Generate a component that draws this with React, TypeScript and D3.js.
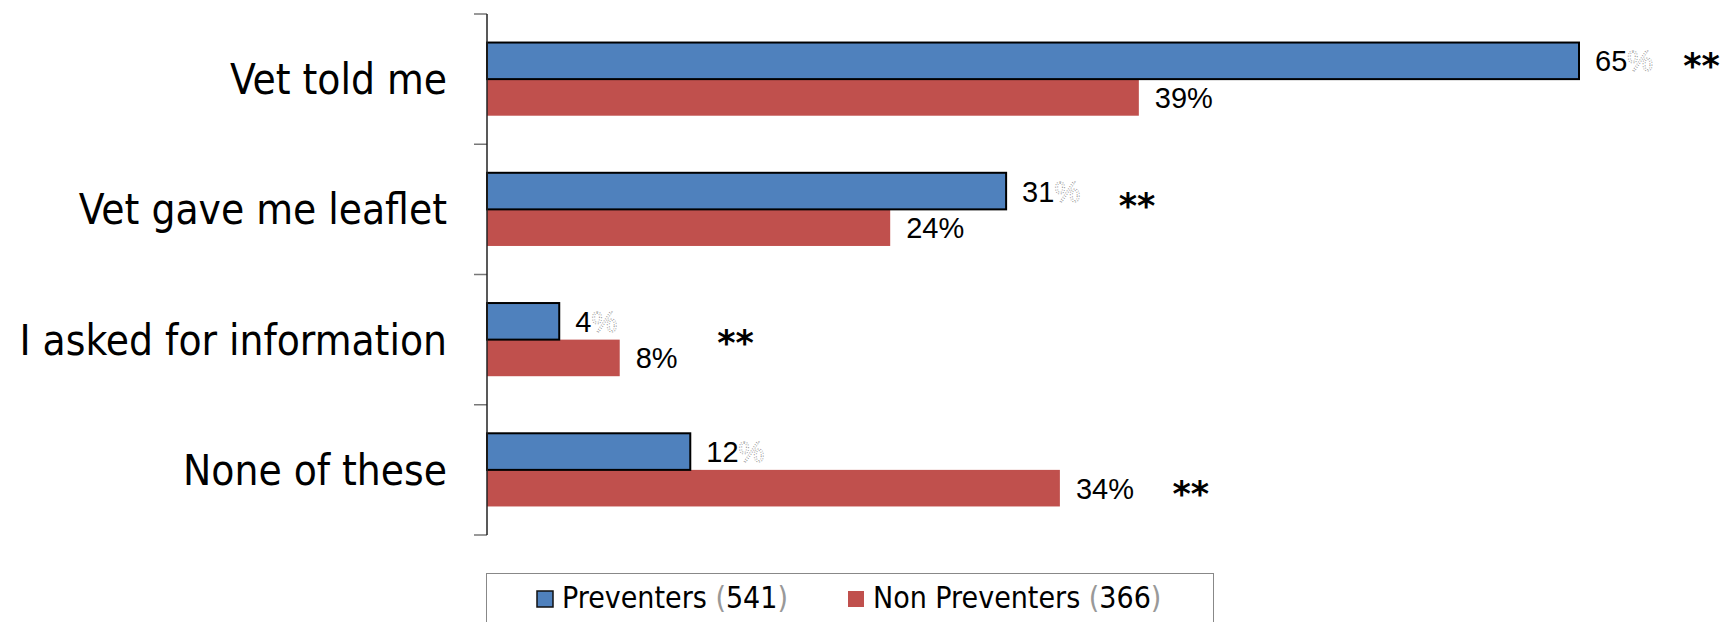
import { useEffect, useRef } from 'react';
import * as d3 from 'd3';

const categories = ['Vet told me', 'Vet gave me leaflet', 'I asked for information', 'None of these'];
const preventers = [65, 30.9, 4.3, 12.1];
const nonPreventers = [38.8, 24, 7.9, 34.1];
const preventerLabels = ['65', '31', '4', '12'];
const nonPreventerLabels = ['39', '24', '8', '34'];
// significance markers: x in % units, y as fraction of the category band
const starX = [71.2, 37.6, 13.7, 40.8];
const starBandPos = [0.36, 0.43, 0.48, 0.64];
const legendNames = ['Preventers', 'Non Preventers'];
const legendCounts = ['541', '366'];

const BLUE = '#4F81BD';
const RED = '#C0504D';

const App = (): JSX.Element => {
  const svgRef = useRef<SVGSVGElement>(null);

  useEffect(() => {
    const width = 1733;
    const height = 622;
    const left = 487;
    const svg = d3.select(svgRef.current)
      .attr('width', width)
      .attr('height', height);

    const x = d3.scaleLinear().domain([0, 70]).range([left, left + 70 * 16.8]);
    const y = d3.scaleBand<string>().domain(categories).range([14, 535]).paddingInner(0).paddingOuter(0);
    const sub = d3.scaleBand<string>().domain(['p', 'n']).range([0, y.bandwidth()])
      .paddingInner(0).paddingOuter(0.78);

    const rows = categories.map((c, i) => ({
      c,
      p: preventers[i],
      n: nonPreventers[i],
      pl: preventerLabels[i],
      nl: nonPreventerLabels[i],
      sx: starX[i],
      sy: starBandPos[i],
    }));

    const g = svg.append('g');

    // red bars first, blue bars (with outline) on top
    g.selectAll('rect.n').data(rows).enter().append('rect')
      .attr('x', x(0))
      .attr('y', d => (y(d.c) as number) + (sub('n') as number))
      .attr('width', d => x(d.n) - x(0))
      .attr('height', sub.bandwidth())
      .attr('fill', RED);

    g.selectAll('rect.p').data(rows).enter().append('rect')
      .attr('x', x(0))
      .attr('y', d => (y(d.c) as number) + (sub('p') as number))
      .attr('width', d => x(d.p) - x(0))
      .attr('height', sub.bandwidth())
      .attr('fill', BLUE)
      .attr('stroke', '#000')
      .attr('stroke-width', 2);

    // value labels
    const pt = g.selectAll('text.pv').data(rows).enter().append('text')
      .attr('x', d => x(d.p) + 16)
      .attr('y', d => (y(d.c) as number) + (sub('p') as number) + sub.bandwidth() / 2)
      .attr('dy', '0.36em')
      .attr('font-family', 'Liberation Sans, Arial, sans-serif')
      .attr('font-size', 29)
      .attr('fill', '#000');
    pt.append('tspan').text(d => d.pl);
    pt.append('tspan')
      .attr('fill', 'none')
      .attr('stroke', '#888')
      .attr('stroke-width', 0.8)
      .attr('stroke-dasharray', '1,1.5')
      .text('%');

    g.selectAll('text.nv').data(rows).enter().append('text')
      .attr('x', d => x(d.n) + 16)
      .attr('y', d => (y(d.c) as number) + (sub('n') as number) + sub.bandwidth() / 2)
      .attr('dy', '0.36em')
      .attr('font-family', 'Liberation Sans, Arial, sans-serif')
      .attr('font-size', 29)
      .attr('fill', '#000')
      .text(d => `${d.nl}%`);

    // significance stars
    g.selectAll('text.star').data(rows).enter().append('text')
      .attr('x', d => x(d.sx))
      .attr('y', d => (y(d.c) as number) + d.sy * y.bandwidth())
      .attr('dy', '0.5em')
      .attr('font-family', 'DejaVu Sans, sans-serif')
      .attr('font-weight', 'bold')
      .attr('font-size', 35)
      .attr('fill', '#000')
      .text('**');

    // category labels
    g.selectAll('text.cat').data(rows).enter().append('text')
      .attr('x', 447)
      .attr('y', d => (y(d.c) as number) + y.bandwidth() / 2)
      .attr('dy', '0.36em')
      .attr('text-anchor', 'end')
      .attr('font-family', 'DejaVu Sans Condensed, DejaVu Sans, sans-serif')
      .attr('font-size', 42)
      .attr('fill', '#000')
      .text(d => d.c);

    // axis line and ticks at band boundaries
    const bounds = [...categories.map(c => y(c) as number), y.range()[1]];
    g.selectAll('line.tick').data(bounds).enter().append('line')
      .attr('x1', left - 13)
      .attr('x2', left)
      .attr('y1', d => d)
      .attr('y2', d => d)
      .attr('stroke', '#777')
      .attr('stroke-width', 1.5);
    g.append('line')
      .attr('x1', left).attr('x2', left)
      .attr('y1', y.range()[0]).attr('y2', y.range()[1])
      .attr('stroke', '#222')
      .attr('stroke-width', 1.5);

    // legend
    const lg = g.append('g');
    lg.append('rect')
      .attr('x', 486.5).attr('y', 573.5)
      .attr('width', 727).attr('height', 80)
      .attr('fill', 'none')
      .attr('stroke', '#888')
      .attr('stroke-width', 1);
    const legendX = [537, 848];
    const legendColors = [BLUE, RED];
    legendNames.forEach((name, i) => {
      lg.append('rect')
        .attr('x', legendX[i]).attr('y', 591)
        .attr('width', 16).attr('height', 16)
        .attr('fill', legendColors[i])
        .attr('stroke', i === 0 ? '#111' : 'none')
        .attr('stroke-width', 1.5);
      const t = lg.append('text')
        .attr('x', legendX[i] + 25)
        .attr('y', 608)
        .attr('font-family', 'DejaVu Sans Condensed, DejaVu Sans, sans-serif')
        .attr('font-size', 30)
        .attr('fill', '#000');
      t.append('tspan').text(`${name} `);
      t.append('tspan').attr('fill', '#999').text('(');
      t.append('tspan').text(legendCounts[i]);
      t.append('tspan').attr('fill', '#999').text(')');
    });

    return () => {
      d3.select(svgRef.current).selectAll('*').remove();
    };
  }, []);

  return (
    <svg ref={svgRef} style={{ position: 'absolute', left: 0, top: 0, background: '#fff' }}></svg>
  );
};

export default App;
